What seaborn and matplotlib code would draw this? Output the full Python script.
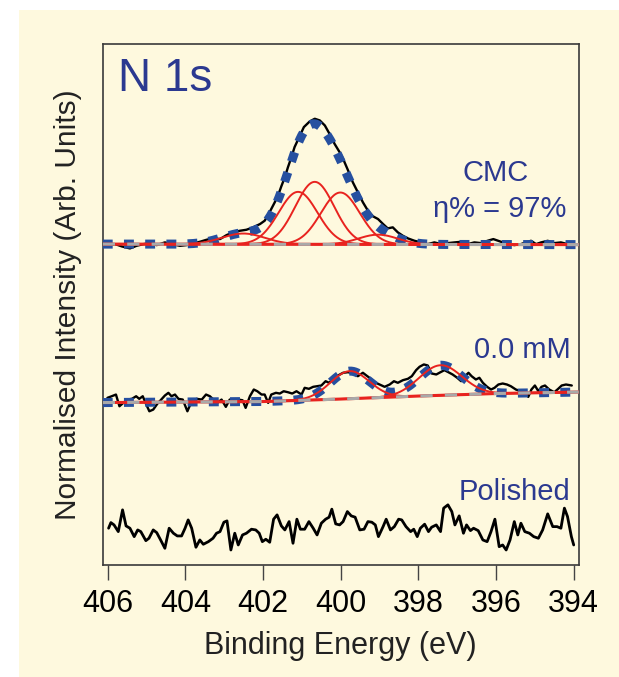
import numpy as np
import matplotlib
matplotlib.use("Agg")
import matplotlib.pyplot as plt
import seaborn as sns
from matplotlib.patches import Rectangle

# ---------------------------------------------------------------------
# Data (binding energy in eV, stacked intensity)
# ---------------------------------------------------------------------
cmc_be = [405.98, 405.81, 405.64, 405.43, 405.26, 405.08, 404.91, 404.74, 404.53, 404.36,
          404.14, 403.97, 403.80, 403.63, 403.46, 403.29, 403.11, 402.94, 402.77, 402.60,
          402.43, 402.26, 402.08, 401.96, 401.87, 401.79, 401.70, 401.61, 401.53, 401.44,
          401.36, 401.27, 401.19, 401.07, 400.95, 400.80, 400.67, 400.54, 400.41, 400.29,
          400.16, 400.03, 399.94, 399.81, 399.69, 399.56, 399.43, 399.30, 399.17, 399.04,
          398.91, 398.79, 398.66, 398.53, 398.40, 398.27, 398.10, 397.93, 397.76, 397.59,
          397.41, 397.24, 397.07, 396.90, 396.73, 396.56, 396.39, 396.22, 396.07, 395.87,
          395.70, 395.53, 395.36, 395.23, 395.10, 394.97, 394.84, 394.67, 394.50, 394.33,
          394.16, 394.03]
cmc_int = [3.183, 3.200, 3.177, 3.157, 3.183, 3.200, 3.210, 3.190, 3.217, 3.200,
           3.183, 3.190, 3.207, 3.223, 3.243, 3.257, 3.250, 3.290, 3.317, 3.333,
           3.343, 3.367, 3.400, 3.433, 3.490, 3.550, 3.617, 3.690, 3.777, 3.867,
           3.967, 4.067, 4.167, 4.267, 4.367, 4.423, 4.450, 4.433, 4.383, 4.300,
           4.200, 4.117, 4.050, 3.933, 3.817, 3.717, 3.617, 3.533, 3.477, 3.450,
           3.400, 3.357, 3.367, 3.317, 3.283, 3.257, 3.233, 3.217, 3.200, 3.217,
           3.200, 3.210, 3.217, 3.223, 3.200, 3.217, 3.210, 3.233, 3.250, 3.223,
           3.200, 3.190, 3.200, 3.217, 3.233, 3.200, 3.217, 3.233, 3.210, 3.217,
           3.200, 3.183]
cmc_base_be = [406.13, 393.87]
cmc_base_int = [3.200, 3.195]
cmc_peak_pos = [402.51, 401.10, 400.67, 400.01, 399.04]
cmc_peak_height = [0.107, 0.523, 0.623, 0.517, 0.097]
cmc_peak_sigma = [0.55, 0.50, 0.50, 0.50, 0.50]

mm0_be = [406.01, 405.90, 405.79, 405.70, 405.60, 405.50, 405.38, 405.27, 405.19, 405.10,
          405.02, 404.93, 404.83, 404.72, 404.64, 404.53, 404.44, 404.36, 404.27, 404.18,
          404.07, 403.95, 403.84, 403.71, 403.58, 403.47, 403.37, 403.28, 403.18, 403.07,
          402.96, 402.86, 402.75, 402.64, 402.53, 402.45, 402.34, 402.24, 402.15, 402.04,
          401.96, 401.87, 401.79, 401.67, 401.57, 401.47, 401.36, 401.25, 401.14, 401.01,
          400.93, 400.82, 400.71, 400.61, 400.50, 400.39, 400.30, 400.20, 400.10, 400.07,
          399.94, 399.81, 399.69, 399.56, 399.43, 399.34, 399.26, 399.13, 399.00, 398.87,
          398.74, 398.63, 398.53, 398.40, 398.27, 398.17, 398.06, 397.97, 397.86, 397.76,
          397.66, 397.54, 397.43, 397.33, 397.23, 397.12, 397.00, 396.90, 396.80, 396.71,
          396.63, 396.52, 396.43, 396.34, 396.23, 396.13, 396.04, 395.94, 395.83, 395.72,
          395.62, 395.49, 395.36, 395.26, 395.17, 395.09, 395.00, 394.91, 394.83, 394.74,
          394.63, 394.50, 394.40, 394.31, 394.20, 394.05]
mm0_int = [1.667, 1.683, 1.700, 1.583, 1.617, 1.650, 1.657, 1.683, 1.657, 1.683,
           1.610, 1.533, 1.550, 1.610, 1.643, 1.690, 1.717, 1.683, 1.700, 1.657,
           1.650, 1.533, 1.633, 1.657, 1.650, 1.700, 1.683, 1.650, 1.617, 1.650,
           1.577, 1.650, 1.643, 1.650, 1.643, 1.567, 1.683, 1.750, 1.733, 1.700,
           1.700, 1.617, 1.700, 1.717, 1.710, 1.733, 1.723, 1.710, 1.733, 1.700,
           1.767, 1.757, 1.777, 1.783, 1.790, 1.833, 1.817, 1.850, 1.877, 1.890,
           1.917, 1.923, 1.910, 1.883, 1.917, 1.890, 1.867, 1.823, 1.800, 1.777,
           1.800, 1.833, 1.817, 1.843, 1.857, 1.883, 1.943, 1.977, 2.000, 1.990,
           1.910, 1.900, 1.923, 1.943, 1.923, 1.900, 1.867, 1.833, 1.883, 1.917,
           1.883, 1.850, 1.867, 1.817, 1.777, 1.750, 1.767, 1.800, 1.810, 1.800,
           1.783, 1.750, 1.733, 1.717, 1.677, 1.750, 1.790, 1.733, 1.777, 1.790,
           1.750, 1.723, 1.757, 1.790, 1.800, 1.790]
mm0_base_be = [406.13, 402.0, 400.0, 398.0, 396.0, 393.87]
mm0_base_int = [1.620, 1.630, 1.655, 1.685, 1.710, 1.725]
mm0_peak_pos = [399.77, 397.43]
mm0_peak_height = [0.275, 0.300]
mm0_peak_sigma = [0.50, 0.55]

pol_be = [405.98, 405.92, 405.84, 405.73, 405.62, 405.53, 405.43, 405.32, 405.23, 405.15,
          405.02, 404.94, 404.83, 404.74, 404.64, 404.53, 404.42, 404.31, 404.21, 404.10,
          404.01, 403.93, 403.84, 403.73, 403.63, 403.54, 403.41, 403.29, 403.20, 403.11,
          403.01, 402.93, 402.83, 402.73, 402.64, 402.53, 402.43, 402.30, 402.19, 402.10,
          402.02, 401.93, 401.83, 401.73, 401.64, 401.53, 401.44, 401.33, 401.23, 401.13,
          401.04, 400.93, 400.82, 400.71, 400.61, 400.50, 400.39, 400.30, 400.23, 400.13,
          400.03, 399.94, 399.83, 399.73, 399.63, 399.51, 399.40, 399.30, 399.20, 399.11,
          399.03, 398.91, 398.83, 398.72, 398.62, 398.51, 398.43, 398.32, 398.20, 398.12,
          398.03, 397.95, 397.84, 397.74, 397.66, 397.54, 397.43, 397.35, 397.24, 397.14,
          397.06, 396.95, 396.84, 396.76, 396.66, 396.58, 396.46, 396.34, 396.23, 396.13,
          396.03, 395.92, 395.83, 395.74, 395.64, 395.53, 395.44, 395.36, 395.26, 395.14,
          395.03, 394.91, 394.80, 394.67, 394.54, 394.43, 394.33, 394.24, 394.16, 394.06,
          394.00]
pol_int = [0.367, 0.423, 0.400, 0.333, 0.550, 0.390, 0.367, 0.283, 0.350, 0.333,
           0.243, 0.267, 0.350, 0.323, 0.250, 0.167, 0.367, 0.317, 0.290, 0.290,
           0.367, 0.450, 0.367, 0.177, 0.250, 0.207, 0.233, 0.267, 0.317, 0.333,
           0.427, 0.440, 0.150, 0.317, 0.200, 0.300, 0.317, 0.357, 0.350, 0.317,
           0.233, 0.257, 0.227, 0.457, 0.500, 0.390, 0.350, 0.433, 0.217, 0.457,
           0.357, 0.357, 0.433, 0.367, 0.300, 0.417, 0.457, 0.477, 0.557, 0.410,
           0.400, 0.433, 0.533, 0.490, 0.477, 0.350, 0.357, 0.433, 0.427, 0.400,
           0.283, 0.383, 0.457, 0.350, 0.383, 0.457, 0.450, 0.383, 0.333, 0.357,
           0.283, 0.367, 0.407, 0.333, 0.377, 0.400, 0.333, 0.567, 0.600, 0.533,
           0.400, 0.490, 0.317, 0.400, 0.343, 0.367, 0.343, 0.250, 0.233, 0.333,
           0.457, 0.183, 0.200, 0.150, 0.250, 0.433, 0.300, 0.417, 0.333, 0.317,
           0.283, 0.267, 0.350, 0.510, 0.383, 0.383, 0.367, 0.567, 0.483, 0.283,
           0.200]

x_ticks = [406, 404, 402, 400, 398, 396, 394]

# ---------------------------------------------------------------------
CREAM = "#fef9de"
NAVY = "#2b3990"
BLUE = "#2650a0"
RED = "#e8231f"
GRAY = "#a9a9a9"

sns.set_theme(style="white")
plt.rcParams["font.family"] = ["Liberation Sans", "DejaVu Sans"]


def gauss(x, c, h, s):
    return h * np.exp(-(x - c) ** 2 / (2 * s ** 2))


def line(ax, x, y, width, ls="-", **kw):
    sns.lineplot(x=x, y=y, ax=ax, sort=False, estimator=None, **kw)
    ln = ax.get_lines()[-1]
    ln.set_linewidth(width)
    ln.set_linestyle(ls)
    ln.set_dash_capstyle("butt")


def draw_fit(ax, be, inten, base_be, base_int, pos, height, sigma):
    grid = np.linspace(406.13, 393.87, 700)
    base = np.interp(grid, base_be[::-1], base_int[::-1])
    comps = [gauss(grid, c, h, s) for c, h, s in zip(pos, height, sigma)]
    envelope = base + np.sum(comps, axis=0)

    line(ax, be, inten, 1.7, color="black", zorder=2)
    line(ax, grid, envelope, 6.5, ls=(0, (1.1, 1.25)), color=BLUE, zorder=3)
    for comp in comps:
        line(ax, grid, base + comp, 1.4, color=RED, zorder=4)
    line(ax, base_be, base_int, 2.2, color=RED, zorder=4)
    line(ax, base_be, base_int, 2.2, ls=(0, (4, 4)), color=GRAY, zorder=5)


fig = plt.figure(figsize=(6.19, 6.77), dpi=100)
fig.patch.set_facecolor("white")
bg = Rectangle((19 / 619, 0), 1, 1 - 10 / 677, transform=fig.transFigure,
               facecolor=CREAM, edgecolor="none", zorder=-10)
fig.add_artist(bg)

ax = fig.add_axes([0.166, 0.1654, 0.769, 0.7703])
ax.set_zorder(1)
ax.set_facecolor(CREAM)

draw_fit(ax, cmc_be, cmc_int, cmc_base_be, cmc_base_int,
         cmc_peak_pos, cmc_peak_height, cmc_peak_sigma)
draw_fit(ax, mm0_be, mm0_int, mm0_base_be, mm0_base_int,
         mm0_peak_pos, mm0_peak_height, mm0_peak_sigma)
line(ax, pol_be, pol_int, 2.0, color="black", zorder=2)

ax.set_xlim(406.13, 393.87)
ax.set_ylim(0, 5.2)
ax.set_xticks(x_ticks)
ax.set_xticklabels([str(t) for t in x_ticks])
ax.set_yticks([])
ax.tick_params(axis="x", direction="out", length=11, width=1.0, color="#444444",
               pad=6, labelsize=22, labelcolor="black", bottom=True)
for sp in ax.spines.values():
    sp.set_visible(True)
    sp.set_color("#3a3a3a")
    sp.set_linewidth(1.2)

ax.set_xlabel("Binding Energy (eV)", fontsize=22, color="#222222", va="center")
ax.xaxis.set_label_coords(0.5, -0.156)
ax.set_ylabel("Normalised Intensity (Arb. Units)", fontsize=21.5, color="#222222",
              va="center")
ax.yaxis.set_label_coords(-0.073, 0.5)

ax.text(0.031, 0.909, "N 1s", transform=ax.transAxes, fontsize=33, color=NAVY,
        ha="left", va="baseline")
ax.text(0.826, 0.737, "CMC", transform=ax.transAxes, fontsize=21, color=NAVY,
        ha="center", va="baseline")
ax.text(0.834, 0.667, "\u03b7% = 97%", transform=ax.transAxes, fontsize=21,
        color=NAVY, ha="center", va="baseline")
ax.text(0.983, 0.3975, "0.0 mM", transform=ax.transAxes, fontsize=21, color=NAVY,
        ha="right", va="baseline")
ax.text(0.983, 0.125, "Polished", transform=ax.transAxes, fontsize=21, color=NAVY,
        ha="right", va="baseline")

fig.savefig("out.png", dpi=100, facecolor=fig.get_facecolor())
